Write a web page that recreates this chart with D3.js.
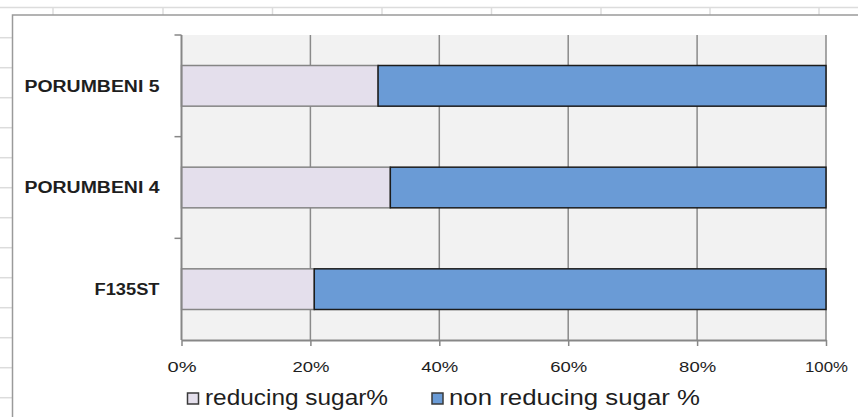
<!DOCTYPE html>
<html>
<head>
<meta charset="utf-8">
<script src="https://cdn.jsdelivr.net/npm/d3@7"></script>
<style>
  html, body { margin: 0; padding: 0; background: #fff; }
  svg { display: block; }
  text { font-family: "Liberation Sans", Arial, sans-serif; fill: #1e1e1e; }
</style>
</head>
<body>
<svg id="chart" width="858" height="417"></svg>
<script>
// Varieties, listed top to bottom
const categories = ["PORUMBENI 5", "PORUMBENI 4", "F135ST"];
// Sugar composition (% of total sugar)
const reducingSugar = [30.5, 32.4, 20.6];
const nonReducingSugar = [69.5, 67.6, 79.4];
const seriesNames = ["reducing sugar%", "non reducing sugar %"];
const tickValues = [0, 0.2, 0.4, 0.6, 0.8, 1];

const colors = ["#e4dfec", "#6a9bd6"];
const strokes = ["#858585", "#1c1c1c"];

const svg = d3.select("#chart");
const W = 858, H = 417;

// Worksheet cells behind the chart object
const sheet = svg.append("g");
sheet.append("line").attr("x1", 0).attr("x2", W).attr("y1", 7.5).attr("y2", 7.5)
  .attr("stroke", "#dcdcdc").attr("stroke-width", 1.5);
[53, 163, 272.5, 382, 491.5, 601, 710, 819].forEach(x => {
  sheet.append("line").attr("x1", x).attr("x2", x).attr("y1", 7.5).attr("y2", 15)
    .attr("stroke", "#dcdcdc").attr("stroke-width", 1.5);
});
for (let y = 37.7; y < H; y += 30) {
  sheet.append("line").attr("x1", 0).attr("x2", 12).attr("y1", y).attr("y2", y)
    .attr("stroke", "#dcdcdc").attr("stroke-width", 1.5);
}

// Chart frame
svg.append("rect").attr("x", 12.5).attr("y", 15).attr("width", W + 20).attr("height", H)
  .attr("fill", "#fff").attr("stroke", "#9a9a9a").attr("stroke-width", 1.5);

const plot = { left: 181.5, right: 826, top: 35, bottom: 340 };

const x = d3.scaleLinear().domain([0, 1]).range([plot.left, plot.right]);
const y = d3.scaleBand().domain(categories).range([plot.top, plot.bottom])
  .paddingInner(0.6).paddingOuter(0.3);
const band = d3.scaleBand().domain(categories).range([plot.top, plot.bottom]);

// Plot background
svg.append("rect").attr("x", plot.left).attr("y", plot.top)
  .attr("width", plot.right - plot.left).attr("height", plot.bottom - plot.top)
  .attr("fill", "#f2f2f2");

// Vertical gridlines
svg.append("g").selectAll("line").data(tickValues.slice(1)).join("line")
  .attr("x1", d => x(d)).attr("x2", d => x(d))
  .attr("y1", plot.top).attr("y2", plot.bottom)
  .attr("stroke", "#8a8a8a").attr("stroke-width", 1.5);

// Stacked bars (100% stacked)
const rows = categories.map((c, i) => ({ cat: c, r: reducingSugar[i], n: nonReducingSugar[i] }));
const stack = d3.stack().keys(["r", "n"]).offset(d3.stackOffsetExpand);
const layers = stack(rows);

svg.append("g").selectAll("g").data(layers).join("g")
  .attr("fill", (d, i) => colors[i])
  .attr("stroke", (d, i) => strokes[i])
  .attr("stroke-width", 1.5)
  .selectAll("rect").data(d => d).join("rect")
  .attr("x", d => x(d[0]))
  .attr("y", d => y(d.data.cat))
  .attr("width", d => x(d[1]) - x(d[0]))
  .attr("height", y.bandwidth());

// Axes
const axisColor = "#878787";
const gx = svg.append("g").attr("transform", `translate(0,${plot.bottom})`)
  .call(d3.axisBottom(x).tickValues(tickValues).tickFormat(d3.format(".0%"))
    .tickSizeInner(6).tickSizeOuter(0).tickPadding(15));
gx.select(".domain").attr("stroke", axisColor).attr("stroke-width", 2);
gx.selectAll(".tick line").attr("stroke", axisColor).attr("stroke-width", 1.5);
gx.selectAll(".tick text").attr("font-size", 15.5).attr("fill", "#1e1e1e")
  .attr("dy", "0.71em")
  .attr("textLength", d => d === 0 ? 29 : (d === 1 ? 43 : 37))
  .attr("lengthAdjust", "spacingAndGlyphs");

const gy = svg.append("g").attr("transform", `translate(${plot.left},0)`);
gy.append("line").attr("x1", 0).attr("x2", 0).attr("y1", plot.top).attr("y2", plot.bottom)
  .attr("stroke", axisColor).attr("stroke-width", 2);
// Tick marks at category boundaries
const boundaries = [plot.top].concat(categories.slice(1).map(c => band(c)));
gy.selectAll("line.tick").data(boundaries).join("line").attr("class", "tick")
  .attr("x1", -7).attr("x2", 0).attr("y1", d => d).attr("y2", d => d)
  .attr("stroke", axisColor).attr("stroke-width", 1.5);

// Category labels
svg.append("g").selectAll("text").data(categories).join("text")
  .attr("x", 159.5)
  .attr("y", d => band(d) + band.bandwidth() / 2)
  .attr("dy", "0.36em")
  .attr("text-anchor", "end")
  .attr("font-size", 16)
  .attr("font-weight", "bold")
  .attr("textLength", d => d === "F135ST" ? 65 : 135)
  .attr("lengthAdjust", "spacingAndGlyphs")
  .text(d => d);

// Legend
const legendItems = [
  { name: seriesNames[0], sx: 187.5, tx: 205, tw: 183 },
  { name: seriesNames[1], sx: 432, tx: 449, tw: 251 }
];
const lg = svg.append("g");
legendItems.forEach((it, i) => {
  lg.append("rect").attr("x", it.sx).attr("y", 393).attr("width", 11).attr("height", 11)
    .attr("fill", colors[i]).attr("stroke", "#3a3a3a").attr("stroke-width", 1.5);
  lg.append("text").attr("x", it.tx).attr("y", 404.5)
    .attr("font-size", 22.5)
    .attr("textLength", it.tw).attr("lengthAdjust", "spacingAndGlyphs")
    .text(it.name);
});
</script>
</body>
</html>
